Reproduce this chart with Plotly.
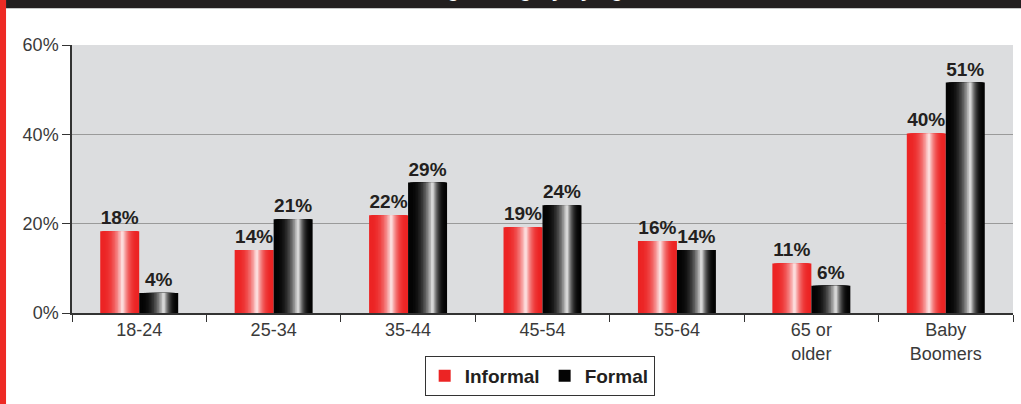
import plotly.graph_objects as go

categories = ["18-24", "25-34", "35-44", "45-54", "55-64", "65 or<br>older", "Baby<br>Boomers"]
informal = [18.3, 14.1, 21.9, 19.2, 16.1, 11.1, 40.2]
formal = [4.5, 21.0, 29.2, 24.1, 14.1, 6.1, 51.6]
informal_labels = ["18%", "14%", "22%", "19%", "16%", "11%", "40%"]
formal_labels = ["4%", "21%", "29%", "24%", "14%", "6%", "51%"]
y_ticks = [0, 20, 40, 60]
y_tick_labels = ["0%", "20%", "40%", "60%"]

FONT = "Liberation Sans"
W = 0.29  # bar width in category units
K = 14  # gradient layers per bar


def mix(c, t):
    return "rgb(%d,%d,%d)" % tuple(round(v + (255 - v) * t) for v in c)


fig = go.Figure()

series = [
    ("Informal", informal, informal_labels, -W, (236, 36, 36), 0.57),
    ("Formal", formal, formal_labels, 0.0, (4, 4, 4), 0.63),
]

for name, vals, labels, off, base, hl in series:
    # base bar with label
    fig.add_trace(go.Bar(
        x=categories, y=vals, name=name, offset=off, width=W,
        marker=dict(color=mix(base, 0), line=dict(width=0)),
        text=labels, textposition="outside", constraintext="none",
        textfont=dict(family=FONT, size=19, color="#231f20", weight="bold"),
        cliponaxis=False, legendgroup=name,
    ))
    # nested lighter strips to fake the cylinder gradient
    for k in range(1, K + 1):
        s = k / (K + 1)
        left = hl * s
        right = min(1.0, hl + (1 - hl) * (1 - s))
        t = s ** 2.6
        fig.add_trace(go.Bar(
            x=categories, y=vals, offset=off + W * left, width=W * (right - left),
            marker=dict(color=mix(base, t), line=dict(width=0)),
            showlegend=False, hoverinfo="skip", legendgroup=name,
        ))

fig.update_layout(
    width=1021, height=404,
    margin=dict(l=72, r=8, t=45, b=89),
    barmode="overlay",
    plot_bgcolor="#dcdddf", paper_bgcolor="white",
    font=dict(family=FONT, size=18, color="#3a3a3a"),
    legend=dict(
        orientation="h", x=0.497, xanchor="center", y=-0.16, yanchor="top",
        bordercolor="#333333", borderwidth=1, bgcolor="white",
        font=dict(family=FONT, size=19, color="#231f20", weight="bold"),
        itemwidth=30, tracegroupgap=0,
    ),
    xaxis=dict(
        showline=True, linecolor="#333333", linewidth=1.5,
        ticks="outside", tickson="boundaries", ticklen=7, tickcolor="#333333",
        showgrid=False,
    ),
    yaxis=dict(
        range=[0, 60], tickvals=y_ticks, ticktext=y_tick_labels,
        showline=True, linecolor="#333333", linewidth=1.5,
        ticks="outside", ticklen=8, tickcolor="#333333",
        gridcolor="#9a9a9a", gridwidth=1, zeroline=False,
    ),
    shapes=[
        dict(type="rect", xref="paper", yref="paper", x0=-0.0701, x1=1.01,
             y0=1.137, y1=1.2, fillcolor="#231f20", line=dict(width=0)),
        dict(type="rect", xref="paper", yref="paper", x0=-0.0766, x1=-0.0701,
             y0=-0.34, y1=1.2, fillcolor="#ee2a24", line=dict(width=0)),
    ],
    annotations=[
        dict(text="Savings Category by Age", xref="paper", yref="paper",
             x=0.47, y=1.155, xanchor="center", yanchor="bottom", showarrow=False,
             font=dict(family=FONT, size=20, color="white", weight="bold")),
    ],
)

fig.write_html("out.html", config={"displayModeBar": False},
               post_script="document.body.style.margin='0';")
